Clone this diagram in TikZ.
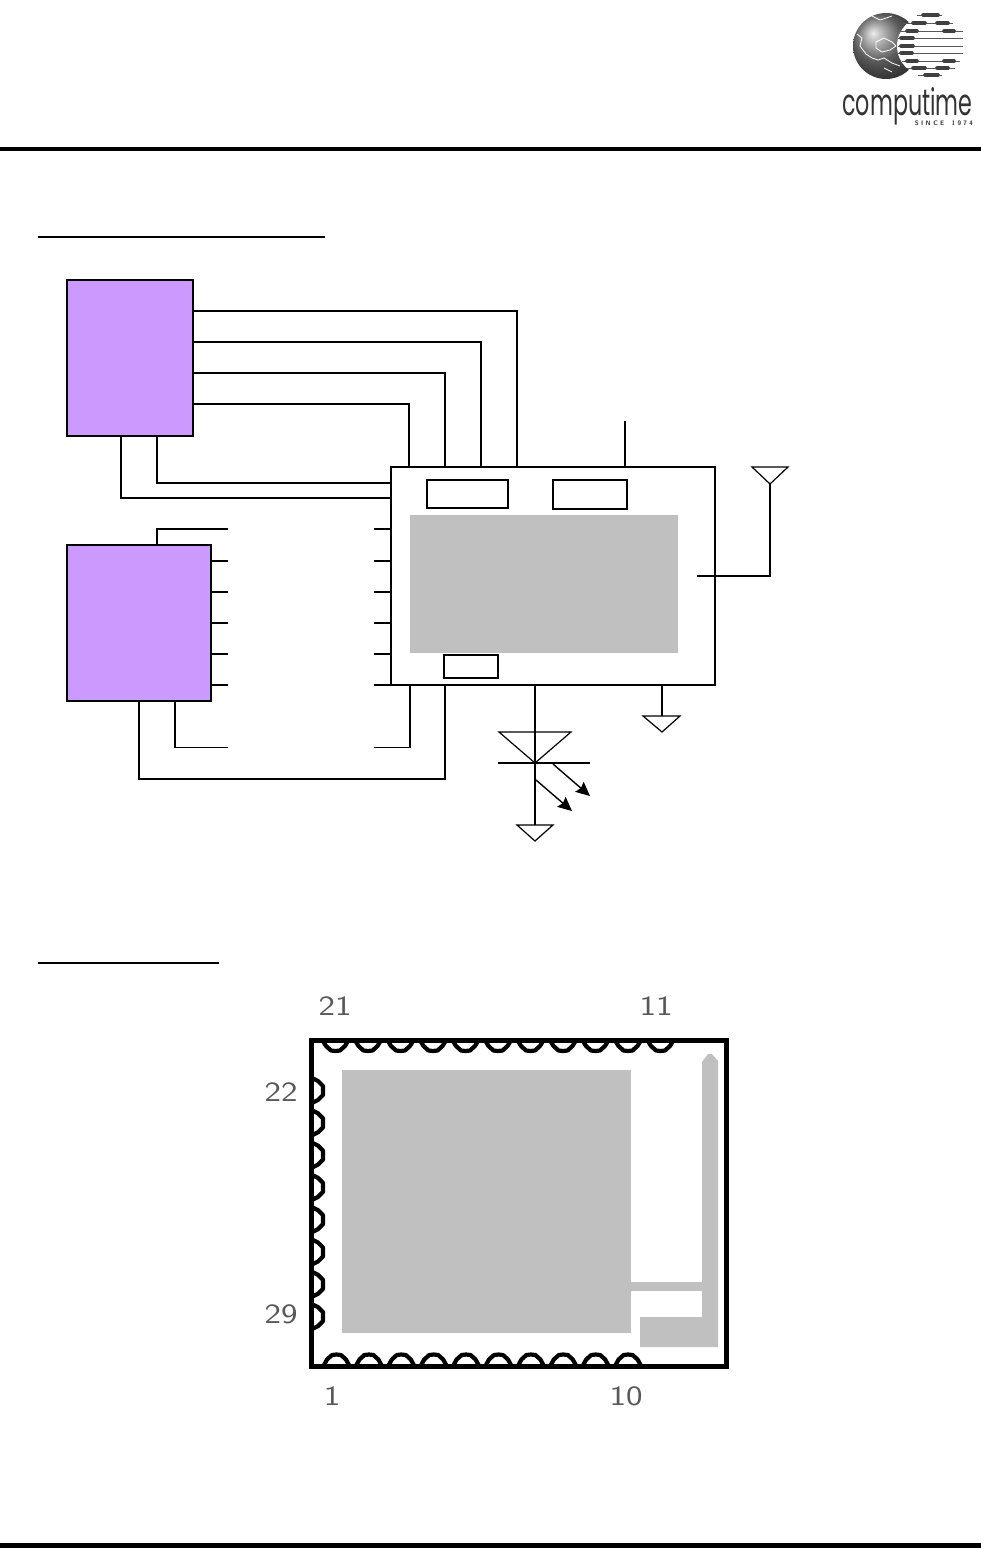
\documentclass[tikz,border=0pt]{standalone}
\usepackage{fontspec}
\usetikzlibrary{arrows.meta}
\newfontfamily\logofont{Poppins}
\tikzset{
  x=1pt,y=-1pt,
  chipbox/.style={draw=black,line width=2pt,fill=purpleic,rectangle,inner sep=0,outer sep=0,anchor=north west},
  modulebox/.style={draw=black,line width=2pt,fill=white,rectangle,inner sep=0,outer sep=0,anchor=north west},
  innerbox/.style={draw=black,line width=1.6pt,fill=white,rectangle,inner sep=0,outer sep=0,anchor=north west},
  greybox/.style={fill=greyarea,draw=none,rectangle,inner sep=0,outer sep=0,anchor=north west},
  wire/.style={draw=black,line width=1.3pt},
  rule/.style={draw=black,line width=2pt},
  gnd/.style={draw=black,line width=1.2pt,line join=miter},
  ledarrow/.style={draw=black,line width=1.4pt,-{Stealth[length=14pt,width=13pt,inset=2pt]}},
  pinlabel/.style={font=\sffamily\fontsize{28}{28}\selectfont,text=black!65,inner sep=0,outer sep=0,xscale=1.25},
  scallop/.style={draw=black,line width=4.2pt,line join=round},
  frameline/.style={draw=black,line width=5pt,line cap=butt},
  bead/.style={line width=3.6pt,line cap=round,draw=black!75},
  leadline/.style={line width=.9pt,draw=black!65},
}
\definecolor{purpleic}{HTML}{CC99FF}
\definecolor{greyarea}{HTML}{C0C0C0}
\begin{document}
\begin{tikzpicture}
\useasboundingbox (0,0) rectangle (981,1548);
\fill[white] (0,0) rectangle (981,1548);

% header / footer rules
\fill[black] (0,147) rectangle (981,151);
\fill[black] (0,1543) rectangle (981,1548);

% logo
\shade[ball color=black!50] (886,46) circle (33);
\fill[white] (927,46) circle (30);
\draw[white,line width=.8pt,line join=round]
  (857,34) -- (862,38) -- (860,46) -- (866,54) -- (872,58) -- (878,60) -- (884,58) -- (892,63) -- (900,66)
  (876,42) -- (884,38) -- (892,42) -- (896,46) -- (890,50) -- (882,52) -- (876,48) -- cycle
  (872,16) -- (880,20) -- (892,16)
  (884,68) -- (892,72);
\foreach \yy/\xa/\xb in {15/917/942,23/903/953,31/900/963,38/898/963,46/898/963,53/898/963,61/902/960,68/907/955,75/918/942}{
  \draw[leadline] (\xa,\yy) -- (\xb,\yy);}
\foreach \yy/\xa/\xb in {15/923/938,23/913/925,23/937/948,31/907/917,31/944/954,38/901/913,46/901/913,53/901/912,61/907/917,61/944/954,68/913/925,68/937/948,75/925/938}{
  \draw[bead] (\xa,\yy) -- (\xb,\yy);}
\node[inner sep=0,outer sep=0,anchor=base,text=black!80] (logotext) at (907.5,115)
  {\raisebox{0pt}[\height][0pt]{\resizebox{130pt}{28pt}{\logofont computime}}};
\node[inner sep=0,outer sep=0,anchor=east,text=black!80,font=\sffamily\bfseries\fontsize{6.5}{6.5}\selectfont] (logosince) at (973,123.5)
  {S I N C E\ \ \ 1 9 7 4};

% section underlines
\draw[rule] (38,237) -- (325,237);
\draw[rule] (38,963) -- (219,963);

% schematic boxes
\node[chipbox,minimum width=126pt,minimum height=156pt] (mcu) at (67,280) {};
\node[chipbox,minimum width=144pt,minimum height=156pt] (flash) at (67,545) {};
\node[modulebox,minimum width=324pt,minimum height=218pt] (module) at (391,467) {};
\node[innerbox,minimum width=81pt,minimum height=28pt] (regA) at (427,480) {};
\node[innerbox,minimum width=74pt,minimum height=29pt] (regB) at (553,480) {};
\node[greybox,minimum width=268pt,minimum height=138pt] (core) at (410,515) {};
\node[innerbox,minimum width=54pt,minimum height=23pt] (regC) at (444,655) {};

% MCU to module, top side
\draw[wire] (mcu.east |- 0,311) -| (517,0 |- module.north);
\draw[wire] (mcu.east |- 0,342) -| (481,0 |- module.north);
\draw[wire] (mcu.east |- 0,373) -| (445,0 |- module.north);
\draw[wire] (mcu.east |- 0,404) -| (409,0 |- module.north);
\draw[wire] (157,0 |- mcu.south) |- (module.west |- 0,483);
\draw[wire] (121,0 |- mcu.south) |- (module.west |- 0,498);

% power stub
\coordinate (vcc) at (625,421);
\draw[wire] (vcc) -- (625,0 |- module.north);

% broken lines between flash and module
\coordinate (ftop) at (228,529);
\draw[wire] (157,0 |- flash.north) |- (ftop);
\foreach \yy/\nm in {561/a,592/b,623/c,654/d,685/e}{
  \coordinate (fs\nm) at (228,\yy);
  \draw[wire] (flash.east |- fs\nm) -- (fs\nm);
  \coordinate (ms\nm) at (374,\yy);
  \draw[wire] (ms\nm) -- (module.west |- ms\nm);
}
\coordinate (mtop) at (374,529);
\draw[wire] (mtop) -- (module.west |- mtop);
\coordinate (fbot) at (228,747.5);
\draw[wire] (175,0 |- flash.south) |- (fbot);
\coordinate (mbot) at (374,747.5);
\draw[wire] (mbot) -| (410,0 |- module.south);
\coordinate (fjog) at (139,779);
\draw[wire] (139,0 |- flash.south) -- (fjog) -| (445,0 |- module.south);

% antenna
\coordinate (antapex) at (770,484);
\coordinate (antstub) at (697,576);
\draw[gnd] (752,467) -- (788,467) -- (antapex) -- cycle;
\draw[wire] (antstub) -| (antapex);

% module ground
\coordinate (g1) at (662,716);
\draw[wire] (662,0 |- module.south) -- (g1);
\draw[gnd] (643,716) -- (680,716) -- (662,732) -- cycle;

% LED
\coordinate (ledapex) at (535,763);
\coordinate (g2) at (535,825);
\draw[wire,line width=1.5pt] (535,0 |- module.south) -- (g2);
\draw[gnd] (499,732) -- (571,732) -- (ledapex) -- cycle;
\draw[wire] (498,763) -- (590,763);
\draw[ledarrow] (553,764) -- (590,796);
\draw[ledarrow] (536,780) -- (572,811);
\draw[gnd] (517,825) -- (553,825) -- (535,841) -- cycle;

% pin-out drawing
\fill[greyarea] (342,1070) rectangle (631,1333);
\fill[greyarea] (631,1282) rectangle (702,1291);
\fill[greyarea] (640,1317) -- (702,1317) -- (702,1062) -- (708,1054) -- (712,1054) -- (718,1061) -- (718,1347) -- (640,1347) -- cycle;
\draw[frameline,line join=miter] (311.5,1040) rectangle (726,1366);
\foreach \i in {0,...,10}{
  \pgfmathsetmacro{\xx}{323+32.5*\i}
  \draw[scallop] (\xx,1041) -- (\xx+3,1046) -- (\xx+8,1050.5) -- (\xx+12.5,1051) -- (\xx+17,1050.5) -- (\xx+22,1046) -- (\xx+25,1041);
}
\foreach \i in {0,...,9}{
  \pgfmathsetmacro{\xx}{324+32.4*\i}
  \draw[scallop] (\xx,1365) -- (\xx+3,1359.5) -- (\xx+8,1355) -- (\xx+12.5,1354.5) -- (\xx+17,1355) -- (\xx+22,1359.5) -- (\xx+25,1365);
}
\foreach \i in {0,...,7}{
  \pgfmathsetmacro{\yy}{1078+32.3*\i}
  \draw[scallop] (312,\yy) -- (318,\yy+3) -- (323,\yy+8) -- (323,\yy+17) -- (318,\yy+22) -- (312,\yy+25);
}
\node[pinlabel] (p21) at (335,1006) {21};
\node[pinlabel] (p11) at (656,1006) {11};
\node[pinlabel] (p22) at (281,1092) {22};
\node[pinlabel] (p29) at (281,1314) {29};
\node[pinlabel] (p1) at (332,1396) {1};
\node[pinlabel] (p10) at (626,1396) {10};
\end{tikzpicture}
\end{document}
